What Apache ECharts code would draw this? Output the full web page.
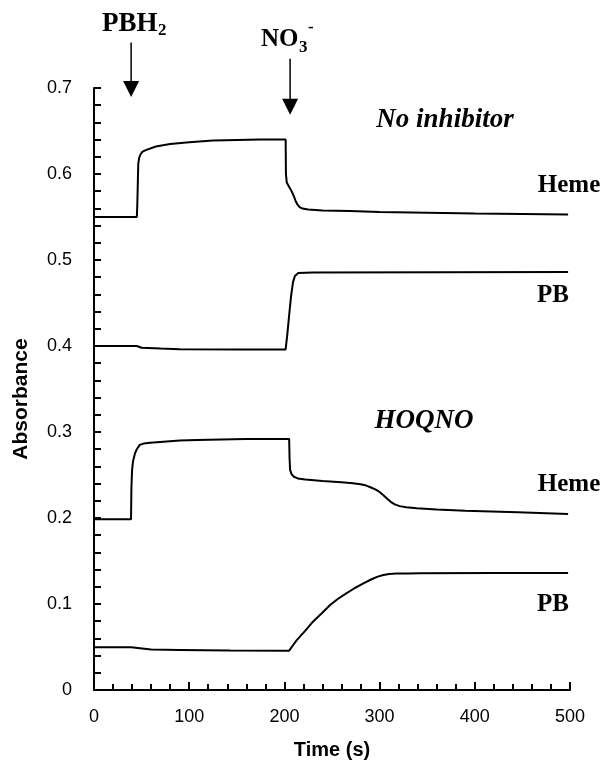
<!DOCTYPE html>
<html>
<head>
<meta charset="utf-8">
<script src="https://cdn.jsdelivr.net/npm/echarts@6/dist/echarts.min.js"></script>
<style>html,body{margin:0;padding:0;background:#fff}#c{width:608px;height:773px}</style>
</head>
<body>
<div id="c"></div>
<script>
// Time (s), Absorbance pairs
var hemeNoInhibitor = [[0,0.55],[45,0.55],[45.5,0.565],[46.5,0.612],[47.5,0.619],[49,0.623],[51,0.626],[55,0.628],[65,0.632],[80,0.635],[100,0.637],[125,0.639],[150,0.6395],[175,0.64],[201.3,0.64],[201.6,0.60],[202.5,0.590],[204,0.587],[206,0.583],[208,0.579],[210,0.574],[212,0.568],[214,0.564],[216,0.5615],[219,0.5598],[225,0.5587],[240,0.5577],[269,0.557],[300,0.5558],[350,0.555],[400,0.554],[450,0.5535],[498,0.553]];
var pbNoInhibitor = [[0,0.4],[45,0.4],[50,0.398],[70,0.397],[90,0.3962],[150,0.396],[201.3,0.396],[203,0.413],[205,0.436],[207,0.458],[209,0.474],[211,0.4815],[212.5,0.4838],[214.6,0.4848],[230,0.4855],[498,0.486]];
var hemeHOQNO = [[0,0.1985],[38.9,0.1985],[39.3,0.235],[40,0.256],[41,0.266],[43,0.275],[45,0.280],[48,0.285],[52,0.2865],[59,0.2876],[90,0.290],[108,0.2907],[160,0.2919],[205,0.292],[205.4,0.27],[206,0.256],[207.5,0.251],[210,0.248],[214,0.246],[222,0.2447],[240,0.243],[260,0.2415],[272,0.2405],[280,0.2393],[286,0.2377],[291,0.2355],[296,0.2330],[300,0.2302],[304,0.2265],[308,0.2225],[312,0.2185],[316,0.2158],[321,0.2138],[328,0.2124],[339,0.2112],[360,0.2098],[390,0.2085],[445,0.2066],[498,0.2047]];
var pbHOQNO = [[0,0.0496],[39,0.0496],[40.5,0.0475],[60,0.047],[90,0.0465],[143,0.0458],[205,0.0457],[209,0.052],[213,0.058],[222,0.069],[230,0.0794],[239,0.089],[248,0.0988],[256,0.1058],[265,0.1124],[274,0.1186],[283,0.124],[291,0.1285],[298,0.1318],[304,0.1338],[310,0.1349],[318,0.1354],[330,0.1356],[342,0.1357],[420,0.136],[498,0.136]];

var xTicks = {min:0, max:500, interval:100};
var yTicks = {min:0, max:0.7, interval:0.1};
var pbh2Time = 39, no3Time = 206;

var chart = echarts.init(document.getElementById('c'), null, {renderer:'canvas'});
function mkLine(d){
  return {type:'line', data:d, showSymbol:false, symbol:'none', smooth:false, silent:true,
    lineStyle:{color:'#000', width:2}, animation:false};
}
var axFont = {color:'#000', fontFamily:'Liberation Sans, Arial', fontSize:18};
chart.setOption({
  animation:false,
  backgroundColor:'#fff',
  grid:{left:94, right:38, top:88, bottom:83},
  xAxis:{type:'value', min:xTicks.min, max:xTicks.max, interval:xTicks.interval,
    name:'Time (s)', nameLocation:'middle', nameGap:50,
    nameTextStyle:{color:'#000', fontFamily:'Liberation Sans, Arial', fontSize:20, fontWeight:'bold'},
    axisLine:{show:true, lineStyle:{color:'#000', width:2}},
    axisTick:{show:true, inside:true, length:8, lineStyle:{color:'#000', width:2}},
    minorTick:{show:true, splitNumber:5, length:6, lineStyle:{color:'#000', width:2}},
    splitLine:{show:false}, minorSplitLine:{show:false},
    axisLabel:Object.assign({margin:18}, axFont)},
  yAxis:{type:'value', min:yTicks.min, max:yTicks.max, interval:yTicks.interval,
    name:'Absorbance', nameLocation:'middle', nameGap:62,
    nameTextStyle:{color:'#000', fontFamily:'Liberation Sans, Arial', fontSize:21, fontWeight:'bold', padding:[0,0,0,-20]},
    axisLine:{show:true, lineStyle:{color:'#000', width:2}},
    axisTick:{show:true, inside:true, length:7, lineStyle:{color:'#000', width:2}},
    minorTick:{show:true, splitNumber:5, length:7, lineStyle:{color:'#000', width:2}},
    splitLine:{show:false}, minorSplitLine:{show:false},
    axisLabel:Object.assign({margin:22, formatter:function(v){return v===0?'0':v.toFixed(1);}}, axFont)},
  series:[mkLine(hemeNoInhibitor), mkLine(pbNoInhibitor), mkLine(hemeHOQNO), mkLine(pbHOQNO)]
});

function px(t,a){return chart.convertToPixel({gridIndex:0},[t,a]);}
function arrow(t, aTop, aBot){
  var p1 = px(t,aTop), p2 = px(t,aBot);
  return [
    {type:'line', shape:{x1:p1[0], y1:p1[1], x2:p2[0], y2:p2[1]-14}, style:{stroke:'#000', lineWidth:1.5}},
    {type:'polygon', shape:{points:[[p2[0]-8,p2[1]-16],[p2[0]+8,p2[1]-16],[p2[0],p2[1]]]}, style:{fill:'#000'}}
  ];
}
var serif = 'Liberation Serif, Times New Roman, serif';
function txt(x,y,s,size,italic,align){
  return {type:'text', x:x, y:y, style:{text:s, fill:'#000', font:(italic?'italic ':'')+'bold '+size+'px '+serif,
    textAlign:align||'center', textVerticalAlign:'middle'}};
}
var g = [].concat(
  arrow(pbh2Time, 0.753, 0.6895),
  arrow(no3Time, 0.734, 0.669),
  [
    txt(102,24,'PBH',27,false,'left'),
    txt(158,31,'2',17,false,'left'),
    txt(261,40,'NO',25,false,'left'),
    txt(299,48,'3',17,false,'left'),
    txt(308,28,'-',17,false,'left'),
    txt(445,120,'No inhibitor',27,true),
    txt(569,186,'Heme',25,false),
    txt(553,296,'PB',25,false),
    txt(424,421,'HOQNO',27,true),
    txt(569,485,'Heme',25,false),
    txt(553,605,'PB',25,false)
  ]
);
chart.setOption({graphic:g});
</script>
</body>
</html>
